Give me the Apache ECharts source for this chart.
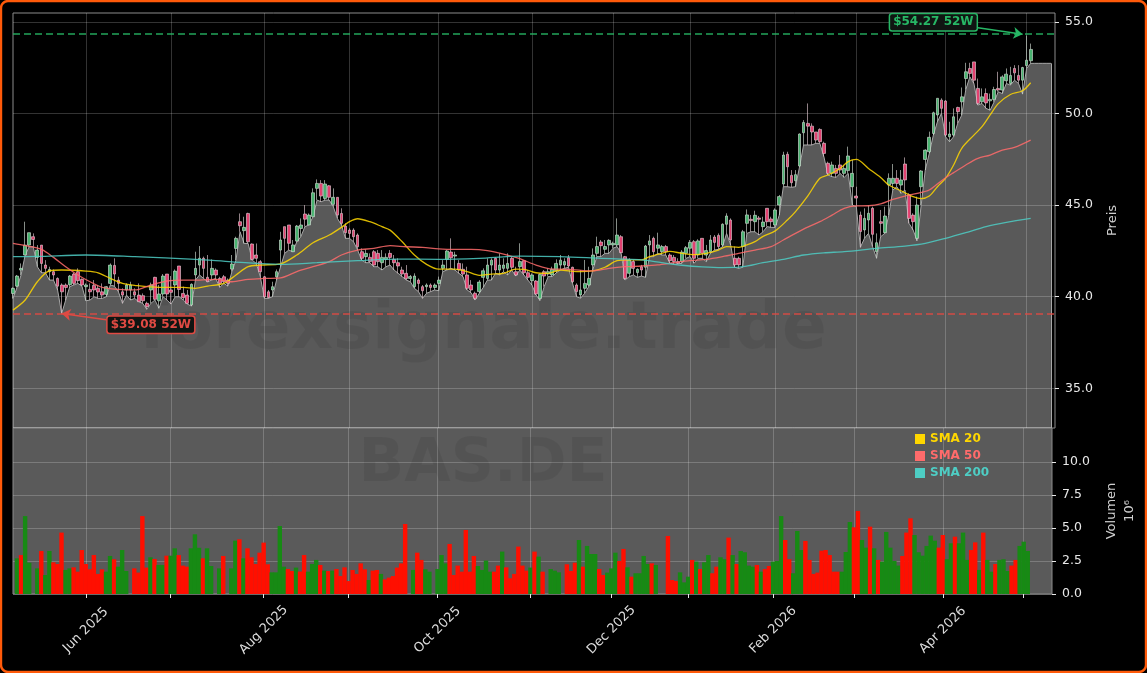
<!DOCTYPE html>
<html>
<head>
<meta charset="utf-8">
<title>BAS.DE</title>
<script src="https://cdn.jsdelivr.net/npm/echarts@6/dist/echarts.min.js"></script>
<style>
html, body { margin: 0; padding: 0; background: #000; }
#chart { width: 1147px; height: 673px; }
</style>
</head>
<body>
<div id="chart"></div>
<script>
var tickIdx = [18, 39, 62, 83, 105, 128, 148, 167, 188, 208, 230, 250];
var tickLabels = ["Jun 2025", "", "Aug 2025", "", "Oct 2025", "", "Dec 2025", "", "Feb 2026", "", "Apr 2026", ""];
var priceTicks = [35, 40, 45, 50, 55];
var volumeTicks = [0, 2.5, 5, 7.5, 10];

var opens = [
40.18,40.58,41.46,42.28,42.82,43.28,42.15,42.82,41.73,41.37,
41.37,41.0,40.64,40.64,40.66,41.24,41.37,40.95,40.55,40.40,
40.62,40.46,40.27,40.13,40.73,41.71,40.91,40.27,40.37,40.37,
40.27,40.09,40.06,39.64,40.37,41.06,39.78,40.15,41.24,40.37,
40.64,41.68,40.18,40.09,39.55,41.19,41.73,42.10,41.06,41.19,
41.46,41.0,41.09,40.91,41.51,42.64,44.10,43.61,44.55,42.88,
42.28,41.91,41.09,40.27,40.37,41.09,42.55,43.83,43.92,42.46,
43.04,43.73,44.52,43.92,44.37,45.92,46.19,45.37,46.06,45.05,
45.43,44.55,43.86,43.64,43.64,43.37,42.46,42.19,42.15,42.46,
42.37,41.86,42.04,42.37,42.04,41.86,41.46,41.28,41.0,40.55,
40.91,40.55,40.55,40.64,40.51,40.73,41.55,42.04,42.44,42.22,
41.82,41.50,41.19,40.64,40.19,40.28,41.06,41.0,41.73,42.10,
41.46,41.55,41.55,42.10,41.37,41.64,41.97,41.31,40.88,40.86,
39.91,41.37,41.24,41.19,41.42,41.73,41.73,42.13,41.61,40.64,
40.10,40.46,40.64,41.74,42.37,42.99,42.59,42.83,42.83,42.83,
43.28,42.19,41.28,41.92,41.32,41.64,41.61,42.83,43.19,42.65,
42.46,42.74,42.28,42.15,41.92,41.92,42.37,42.65,43.01,42.28,
43.19,42.28,42.46,43.26,43.35,42.83,43.96,44.19,42.10,42.10,
42.74,44.01,44.23,44.10,44.30,43.83,44.83,44.25,43.92,45.01,
46.16,47.78,46.63,46.34,47.14,48.96,49.47,49.32,49.0,49.14,
48.38,47.29,46.74,47.01,47.20,46.74,46.89,46.01,45.50,44.46,
43.65,44.19,44.83,42.46,44.10,43.50,46.10,46.19,46.47,46.10,
47.25,45.56,44.46,43.19,46.01,47.50,47.92,48.92,49.93,50.74,
50.69,48.74,48.83,50.34,50.65,51.92,52.47,52.83,51.38,50.65,
51.10,50.70,50.78,51.38,51.29,51.80,51.65,52.47,52.09,51.83,
52.63,52.89];

var closes = [
40.46,41.13,41.55,42.82,43.50,43.13,42.55,41.82,41.55,41.49,
41.19,40.58,40.27,40.51,41.13,40.73,40.88,40.64,40.64,40.27,
40.37,40.26,40.09,40.55,41.73,41.24,40.73,40.09,40.64,40.64,
40.09,39.73,39.78,39.46,40.64,39.86,40.15,41.13,40.15,40.24,
41.40,40.40,39.95,39.64,40.68,41.55,42.10,41.55,40.82,41.55,
41.19,40.73,40.82,40.73,41.79,43.19,43.88,43.79,43.0,42.04,
42.10,41.37,40.0,39.95,40.55,41.37,43.10,43.19,42.92,42.83,
43.86,43.92,44.24,44.46,45.68,46.19,45.50,46.16,45.43,45.43,
44.46,44.01,43.50,43.46,43.28,42.73,42.10,42.37,41.92,41.73,
41.92,42.15,42.15,42.15,41.86,41.68,41.24,41.0,41.10,41.13,
40.73,40.33,40.64,40.51,40.64,40.91,41.73,42.50,42.13,42.28,
41.46,41.24,40.46,40.37,39.91,40.80,41.42,41.73,42.0,41.46,
41.73,41.73,41.82,41.61,41.19,41.92,41.31,41.06,41.19,40.15,
41.22,41.13,41.37,41.50,41.82,42.0,41.92,41.68,40.82,40.28,
40.37,40.73,41.0,42.28,42.74,42.79,42.74,43.08,42.92,43.37,
42.41,41.0,42.01,41.55,41.50,41.46,42.77,43.05,42.46,42.83,
42.74,42.46,41.97,41.92,41.83,42.44,42.68,42.97,42.10,43.05,
42.37,42.52,43.10,42.97,42.74,43.96,44.41,43.10,41.74,41.74,
43.55,44.47,44.16,44.45,44.23,44.08,44.10,44.10,44.74,45.47,
47.74,47.10,46.23,46.67,48.89,49.52,49.32,49.0,48.56,48.47,
47.83,46.74,47.20,46.74,46.92,47.01,47.69,46.74,45.39,43.56,
44.28,44.56,43.41,42.95,44.01,44.41,46.47,46.47,46.19,46.38,
46.38,44.28,44.10,45.01,46.87,48.01,48.71,50.05,50.84,50.29,
48.83,48.89,49.83,50.11,50.92,52.29,52.20,51.83,50.56,50.92,
50.59,50.78,51.32,51.29,52.01,52.16,52.09,52.23,51.83,52.52,
52.92,53.51];

var lows = [
39.91,40.51,41.19,42.28,42.73,42.73,41.64,41.31,41.31,40.91,
40.91,40.37,39.08,39.82,40.55,40.64,40.73,40.58,39.78,39.82,
40.0,39.91,39.91,40.0,40.64,40.58,40.27,39.64,40.09,39.82,
39.91,39.73,39.64,39.31,39.64,39.82,39.37,40.0,39.82,39.60,
40.0,40.0,39.82,39.60,39.49,40.91,41.19,41.0,40.82,40.91,
41.0,40.51,40.73,40.58,41.37,42.0,43.55,42.91,42.91,42.0,
41.82,41.09,39.91,39.91,40.0,40.91,41.64,42.37,42.55,42.46,
43.0,43.28,43.83,43.92,44.37,45.28,45.19,45.28,45.28,44.92,
44.28,43.92,43.19,43.19,43.0,42.55,42.0,41.86,41.86,41.64,
41.64,41.46,41.64,41.73,41.46,41.28,41.10,40.91,40.82,40.46,
40.28,39.91,40.19,40.28,40.37,40.33,41.37,41.46,41.55,41.46,
41.28,41.10,40.37,40.22,39.82,40.19,40.51,40.91,40.91,41.28,
41.19,41.37,41.19,41.46,41.13,41.46,41.19,40.91,40.64,40.10,
39.79,40.55,41.10,41.10,41.31,41.46,41.55,41.61,40.73,40.0,
39.92,40.19,40.55,41.46,42.19,42.19,42.37,42.37,42.65,42.74,
42.37,40.92,41.10,41.19,41.06,41.13,41.06,42.19,42.19,42.37,
42.28,42.28,41.83,41.79,41.79,41.83,42.10,42.19,41.83,42.10,
42.10,41.92,42.37,42.55,42.59,42.74,43.46,42.83,41.61,41.55,
41.61,43.46,43.55,43.55,43.37,43.55,43.83,43.79,43.79,44.46,
46.01,46.01,45.98,46.01,47.10,48.29,48.29,48.29,48.38,48.38,
47.65,46.65,46.56,46.52,46.74,46.52,46.74,45.01,44.92,42.70,
43.19,43.46,42.74,42.10,43.28,43.46,44.46,45.83,46.01,45.65,
45.83,44.01,43.65,43.06,45.01,46.92,47.83,48.83,49.56,50.02,
48.74,48.47,48.74,49.47,49.92,51.32,52.01,51.65,50.47,50.56,
50.29,50.19,50.65,51.20,51.10,51.65,51.56,51.83,51.65,51.07,
52.47,52.75];

var highs = [
40.51,41.19,41.82,44.10,43.50,43.46,42.82,42.82,42.0,41.64,
41.49,41.06,40.73,40.73,41.19,41.31,41.55,41.0,40.73,40.73,
40.91,40.64,40.73,40.58,41.82,42.10,41.09,40.46,40.73,40.82,
40.46,40.73,40.18,39.73,40.77,41.09,40.64,41.24,41.24,41.13,
41.49,41.68,40.55,40.37,40.73,42.46,42.77,42.19,42.28,42.04,
41.55,41.09,41.19,41.0,42.28,43.28,44.55,44.37,44.59,42.91,
42.91,42.0,41.13,40.37,40.82,41.49,43.55,43.83,43.92,43.10,
43.92,44.28,45.01,44.55,45.92,46.41,46.37,46.37,46.10,45.92,
45.43,44.83,44.01,43.74,43.74,43.46,42.64,42.59,42.37,42.55,
42.55,42.55,42.37,42.55,42.28,42.10,41.64,41.73,41.19,41.28,
41.0,40.64,40.73,40.73,40.73,41.10,42.0,42.55,43.19,42.46,
42.0,41.82,41.64,40.91,40.28,40.91,41.55,42.10,42.10,42.15,
42.37,42.10,42.37,42.19,41.64,42.92,42.0,41.46,41.28,40.91,
41.28,41.46,41.55,41.64,42.04,42.28,42.10,42.28,41.64,40.73,
41.46,42.01,41.64,42.64,43.28,43.10,43.10,43.14,43.01,44.28,
43.37,42.23,42.10,42.01,41.55,41.74,42.83,43.37,43.28,43.50,
42.83,42.83,42.37,42.28,42.10,42.55,42.77,43.10,43.10,43.14,
43.19,42.83,43.37,43.37,43.46,44.01,44.56,44.28,42.74,42.19,
43.65,44.77,44.47,44.70,44.41,44.37,44.83,44.37,44.83,45.56,
47.92,47.92,46.92,46.92,48.92,49.65,50.56,49.47,49.0,49.20,
48.47,47.38,47.38,47.20,47.74,47.20,48.20,47.47,46.01,44.65,
44.83,45.01,44.92,43.46,44.74,44.92,46.74,47.25,46.92,46.92,
47.61,45.65,44.56,45.47,46.92,48.05,49.02,50.11,50.84,50.84,
50.74,49.56,50.29,50.38,51.43,52.78,52.78,52.83,51.92,51.38,
51.38,51.10,51.47,52.29,52.10,52.47,52.56,52.65,52.65,52.56,
54.27,53.83];

// the grey area runs on past the last candle at the last low
var areaTail = [52.75, 52.75, 52.75, 52.75, 52.75];

var volumes = [
null,2.70,2.95,5.9,2.37,null,1.94,3.26,1.44,3.26,2.4,
2.27,4.65,1.82,1.94,2.02,1.69,3.33,2.27,1.87,2.95,
1.52,1.87,1.69,2.88,2.63,2.07,3.33,1.74,null,1.94,
1.62,5.9,2.0,2.78,2.65,2.2,2.2,2.9,2.9,3.46,
2.95,2.15,2.07,3.46,4.52,3.5,2.7,3.46,2.12,null,
1.94,2.88,null,1.94,4.04,4.14,2.7,3.46,2.78,2.27,
3.13,3.89,2.25,1.64,1.64,5.15,2.07,1.89,1.74,2.0,
1.7,2.95,1.69,2.27,2.58,2.2,1.77,1.74,1.77,1.89,
1.36,2.02,0.98,1.82,1.52,2.32,1.87,1.06,1.77,1.82,
1.52,1.11,1.24,1.36,2.0,2.32,5.3,null,1.82,3.13,
2.58,1.87,1.69,null,1.89,2.95,2.32,3.79,1.44,2.15,
1.69,4.85,1.69,2.88,2.12,1.82,2.53,1.69,1.69,2.15,
3.21,2.02,1.19,1.52,3.59,2.15,1.77,2.0,3.21,2.83,
1.69,null,1.89,1.77,1.64,null,2.25,1.74,2.37,4.09,
2.07,3.64,3.03,3.03,1.89,1.44,1.62,1.94,3.13,2.5,
3.41,2.02,1.31,1.57,1.57,2.88,2.27,2.32,2.2,null,
null,4.39,1.06,0.98,1.64,0.88,1.31,2.58,2.45,
1.89,2.4,2.95,1.57,2.07,2.78,2.63,4.27,2.95,2.27,
3.26,3.16,2.15,2.07,2.2,1.69,1.89,2.12,2.45,2.5,
5.9,4.09,2.63,1.57,4.77,3.33,4.02,2.58,1.52,1.62,
3.28,3.33,2.95,1.69,1.69,1.69,3.18,5.45,5.05,6.29,
4.09,3.51,5.1,3.46,2.58,2.45,4.7,3.51,2.5,2.15,
2.88,4.65,5.73,4.47,3.16,2.9,3.64,4.42,4.04,3.51,
4.47,2.63,3.84,4.34,3.84,4.65,2.58,3.33,3.91,1.82,
4.65,2.58,1.69,2.27,2.58,2.63,1.74,2.15,2.58,3.64,
3.96,3.26];

// g = green bar, r = red bar, one letter per volume above
var volumeSides = "g" + "grggggrggr" + "rrggrrrrrr" + "rrggrggggr" + "rrrgrggrgg" + "rrrgggrggg" +
    "grgggrgrrr" + "rrrggggrrg" + "rrgggrgrgr" + "rrrrrrrgrr" + "grrrrrrggr" +
    "rggggggrrr" + "rrrrggggrr" + "grrrrrrgrg" + "rgggggrrrg" + "rgggrrgggr" +
    "rgrggggrgg" + "grrrgggrg" + "rggrrggrgr" + "ggggrgrrgg" + "grrgggrrrr" +
    "rrrrrgggrr" + "ggrgrggggg" + "rrrggggggr" + "rggrgggrrg" + "rggrgggrrg" + "gg";

var sma20Idx = [0,3,6,9,12,18,21,24,27,30,36,42,45,48,52,55,58,61,66,70,74,78,81,83,85,88,91,93,96,99,102,105,109,112,115,118,121,124,126,129,132,135,139,143,146,149,152,155,157,160,162,165,168,171,174,176,179,181,183,185,188,191,193,196,199,201,204,206,208,211,214,216,219,222,224,226,228,230,232,234,237,239,241,243,246,249,251];
var sma20 = [39.27,39.82,40.82,41.42,41.46,41.40,41.31,41.0,40.73,40.62,40.51,40.51,40.46,40.58,40.73,41.19,41.64,41.73,41.80,42.28,42.95,43.37,43.79,44.10,44.26,44.10,43.83,43.64,43.0,42.28,41.77,41.51,41.51,41.37,41.17,41.24,41.28,41.51,41.5,41.31,41.28,41.46,41.37,41.41,41.61,41.97,42.01,42.01,42.19,42.37,42.48,42.37,42.30,42.37,42.55,42.74,42.70,42.83,43.01,43.30,43.60,44.19,44.65,45.50,46.47,46.65,47.01,47.38,47.50,47.01,46.52,46.10,45.79,45.47,45.36,45.50,46.01,46.47,47.2,48.11,48.83,49.29,49.93,50.55,51.05,51.25,51.69];
var sma50Idx = [0,3,7,10,13,16,19,22,26,30,34,38,42,46,50,54,58,62,66,70,74,78,81,85,89,93,97,101,105,109,113,117,121,125,129,133,137,143,147,151,155,159,163,167,171,175,179,183,187,190,193,196,199,202,205,208,211,214,217,220,223,226,229,232,235,238,241,244,247,251];
var sma50 = [42.91,42.79,42.59,42.15,41.64,41.19,40.82,40.51,40.40,40.37,40.64,40.86,40.91,40.91,40.95,40.82,40.95,41.0,41.03,41.37,41.64,41.92,42.28,42.55,42.64,42.79,42.73,42.70,42.62,42.59,42.59,42.52,42.33,42.08,41.73,41.51,41.50,41.41,41.55,41.64,41.68,41.74,41.86,41.97,42.04,42.19,42.37,42.55,42.74,43.10,43.46,43.80,44.10,44.46,44.83,44.96,44.97,45.07,45.32,45.50,45.65,45.83,46.34,46.78,47.2,47.56,47.74,48.01,48.16,48.56];
var sma200Idx = [0,6,18,30,45,54,66,75,85,95,105,115,125,135,145,150,155,160,165,170,175,180,185,190,195,200,205,213,220,225,230,235,240,245,251];
var sma200 = [42.19,42.2,42.28,42.19,42.04,41.91,41.77,41.86,41.97,42.06,42.04,42.10,42.22,42.19,42.10,42.06,42.01,41.86,41.72,41.63,41.59,41.64,41.86,42.04,42.28,42.4,42.46,42.64,42.77,42.92,43.19,43.5,43.83,44.06,44.28];

// where the dashed lines sit in the picture
var highLine = 54.34;
var lowLine = 39.08;

var GRID_LINE = "rgba(255,255,255,0.2)";
var SPINE = "#8c8c8c";
var LABEL_FONT = "DejaVu Sans";

function buildCategories() {
    var categories = new Array();
    for (var i = 0; i < 258; i++) {
        categories.push("" + i);
    }
    return categories;
}

function buildCandles() {
    var candles = new Array();
    for (var i = 0; i < opens.length; i++) {
        candles.push([opens[i], closes[i], lows[i], highs[i]]);
    }
    return candles;
}

function pairUp(idx, values) {
    var pairs = new Array();
    for (var i = 0; i < idx.length; i++) {
        pairs.push([idx[i], values[i]]);
    }
    return pairs;
}

function isMonthTick(index) {
    return tickIdx.indexOf(index) != -1;
}

function hasMonthLabel(index) {
    var pos = tickIdx.indexOf(index);
    return pos != -1 && tickLabels[pos] != "";
}

function xAxisFor(gridIndex, withTicks) {
    return {
        type: "category",
        gridIndex: gridIndex,
        boundaryGap: false,
        containShape: false,
        data: buildCategories(),
        axisLine: {show: false},
        axisTick: {show: withTicks, length: 4, interval: isMonthTick, lineStyle: {color: "#e8e8e8", width: 1}},
        axisLabel: {
            show: withTicks,
            interval: hasMonthLabel,
            rotate: 45,
            align: "center",
            verticalAlign: "middle",
            margin: 36,
            color: "#dcdcdc",
            fontFamily: LABEL_FONT,
            fontSize: 13,
            formatter: function (value) {
                var pos = tickIdx.indexOf(parseInt(value));
                return pos == -1 ? "" : tickLabels[pos];
            }
        },
        splitLine: {show: true, interval: isMonthTick, lineStyle: {color: GRID_LINE, width: 1}}
    };
}

function yAxisFor(gridIndex, min, max, ticks, name, nameGap) {
    return {
        type: "value",
        gridIndex: gridIndex,
        position: "right",
        min: min,
        max: max,
        name: name,
        nameLocation: "middle",
        nameGap: nameGap,
        nameRotate: 90,
        nameTextStyle: {color: "#cfcfcf", fontFamily: LABEL_FONT, fontSize: 13, lineHeight: 18},
        axisLine: {show: false},
        axisTick: {show: true, length: 4, customValues: ticks, lineStyle: {color: "#e8e8e8", width: 1}},
        axisLabel: {
            customValues: ticks,
            margin: 10,
            padding: [2, 0, 0, 0],
            color: "#e8e8e8",
            fontFamily: LABEL_FONT,
            fontSize: 12.5,
            formatter: function (value) { return value.toFixed(1); }
        },
        splitLine: {show: true, lineStyle: {color: GRID_LINE, width: 1}}
    };
}

function smaSeries(name, idx, values, color, marks) {
    var serie = {
        name: name,
        type: "line",
        xAxisIndex: 0,
        yAxisIndex: 0,
        data: pairUp(idx, values),
        smooth: 0.3,
        showSymbol: false,
        silent: true,
        z: 6,
        itemStyle: {color: color},
        lineStyle: {color: color, width: 1.3, opacity: 0.85}
    };
    if (marks) {
        serie.markLine = marks.markLine;
        serie.markPoint = marks.markPoint;
    }
    return serie;
}

function annotationLabel(text, color, coord) {
    return {
        coord: coord,
        symbol: "rect",
        symbolSize: 1,
        itemStyle: {color: "rgba(0,0,0,0)"},
        label: {
            show: true,
            position: "inside",
            formatter: text,
            color: color,
            fontFamily: LABEL_FONT,
            fontWeight: "bold",
            fontSize: 12,
            backgroundColor: "#101512",
            borderColor: color,
            borderWidth: 1.5,
            borderRadius: 2,
            padding: [2, 3, 2, 3]
        }
    };
}

function buildAnnotations() {
    var green = "#27b765";
    var red = "#e04a43";
    return {
        markLine: {
            silent: true,
            animation: false,
            symbol: ["none", "none"],
            label: {show: false},
            data: [
                {yAxis: highLine, lineStyle: {color: green, type: [7, 4], width: 1.6, opacity: 0.9}},
                {yAxis: lowLine, lineStyle: {color: red, type: [7, 4], width: 1.6, opacity: 0.9}},
                [
                    {coord: [238, 54.7], symbol: "none", lineStyle: {color: green, type: "solid", width: 1.5, opacity: 1}},
                    {coord: [249, highLine], symbol: "arrow", symbolSize: 9}
                ],
                [
                    {coord: [23, 38.74], symbol: "none", lineStyle: {color: red, type: "solid", width: 1.5, opacity: 1}},
                    {coord: [12, lowLine], symbol: "arrow", symbolSize: 9}
                ]
            ]
        },
        markPoint: {
            silent: true,
            animation: false,
            data: [
                annotationLabel("$54.27 52W", green, [227, 55.0]),
                annotationLabel("$39.08 52W", red, [34, 38.47])
            ]
        }
    };
}

function buildOption() {
    return {
        animation: false,
        backgroundColor: "#000",
        grid: [
            {left: 13, width: 1042, top: 13, height: 415, show: true, borderColor: SPINE, borderWidth: 1, backgroundColor: "#000"},
            {left: 13, width: 1042, top: 428, height: 166, show: true, borderColor: SPINE, borderWidth: 1, backgroundColor: "#5a5a5a"}
        ],
        xAxis: [xAxisFor(0, false), xAxisFor(1, true)],
        yAxis: [
            yAxisFor(0, 32.83, 55.5, priceTicks, "Preis", 44),
            yAxisFor(1, 0, 12.57, volumeTicks, "Volumen\n10\u2076", 51)
        ],
        legend: {
            left: 910,
            top: 428,
            orient: "vertical",
            itemWidth: 10,
            itemHeight: 10,
            itemGap: 5,
            selectedMode: false,
            textStyle: {fontFamily: LABEL_FONT, fontWeight: "bold", fontSize: 12},
            data: [
                {name: "SMA 20", icon: "rect", textStyle: {color: "#ffd700"}},
                {name: "SMA 50", icon: "rect", textStyle: {color: "#ff6b6b"}},
                {name: "SMA 200", icon: "rect", textStyle: {color: "#4ecdc4"}}
            ]
        },
        graphic: [
            {type: "text", silent: true, z: 3, x: 483, y: 331, style: {text: "forexsignale.trade", fontFamily: LABEL_FONT, fontWeight: "bold", fontSize: 66, fill: "rgba(0,0,0,0.07)", align: "center", verticalAlign: "middle"}},
            {type: "text", silent: true, z: 3, x: 483, y: 465, style: {text: "BAS.DE", fontFamily: LABEL_FONT, fontWeight: "bold", fontSize: 60, fill: "rgba(0,0,0,0.07)", align: "center", verticalAlign: "middle"}},
            {type: "rect", silent: true, z: 20, shape: {x: 1, y: 1, width: 1145, height: 671, r: 7}, style: {fill: "none", stroke: "#ff5a0a", lineWidth: 2.4}}
        ],
        series: [
            {
                name: "Tief",
                type: "line",
                xAxisIndex: 0,
                yAxisIndex: 0,
                data: lows.concat(areaTail),
                showSymbol: false,
                silent: true,
                z: 1,
                lineStyle: {color: "#a8a8a8", width: 1},
                areaStyle: {color: "rgba(255,255,255,0.35)", origin: "start", opacity: 1},
                markLine: {
                    silent: true,
                    animation: false,
                    symbol: ["none", "none"],
                    label: {show: false},
                    data: [[
                        {coord: [256, 52.75], lineStyle: {color: "#a8a8a8", type: "solid", width: 1}},
                        {coord: [256, 32.83]}
                    ]]
                }
            },
            {
                name: "Kurs",
                type: "candlestick",
                xAxisIndex: 0,
                yAxisIndex: 0,
                data: buildCandles(),
                barWidth: 3.2,
                silent: true,
                z: 4,
                itemStyle: {
                    color: "#4fc27a",
                    color0: "#f5467a",
                    borderColor: "#d0dcd2",
                    borderColor0: "#e2c8d0",
                    borderWidth: 0.7,
                    opacity: 0.92
                }
            },
            smaSeries("SMA 20", sma20Idx, sma20, "#ffd700"),
            smaSeries("SMA 50", sma50Idx, sma50, "#ff6b6b"),
            smaSeries("SMA 200", sma200Idx, sma200, "#4ecdc4", buildAnnotations()),
            {
                name: "Volumen",
                type: "bar",
                xAxisIndex: 1,
                yAxisIndex: 1,
                data: volumes,
                barWidth: 4.4,
                clip: true,
                silent: true,
                z: 4,
                itemStyle: {
                    color: function (params) {
                        return volumeSides.charAt(params.dataIndex) == "g" ? "#178a14" : "#ff0f00";
                    }
                }
            }
        ]
    };
}

var chart = echarts.init(document.getElementById("chart"));
chart.setOption(buildOption());
</script>
</body>
</html>
